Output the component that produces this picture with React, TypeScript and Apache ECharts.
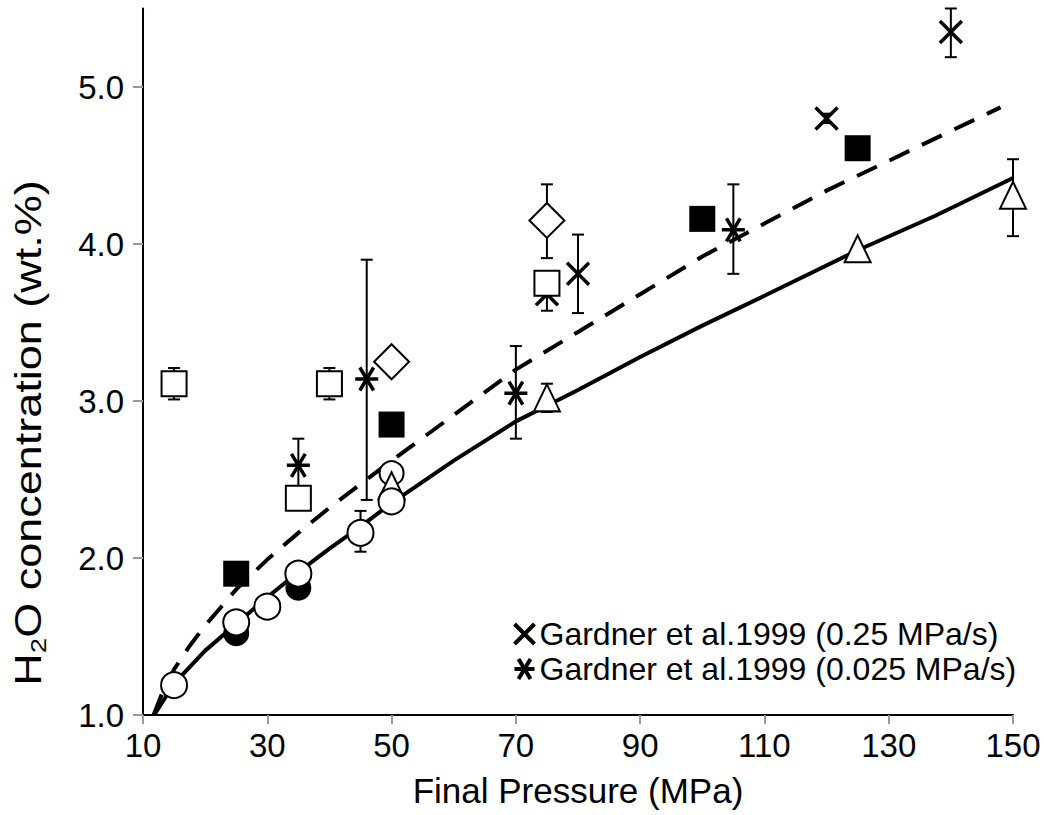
import React, { useEffect, useRef } from "react";
import * as echarts from "echarts";

// ---------- data ----------
const xTicks = [10, 30, 50, 70, 90, 110, 130, 150];
const yTicks = [1, 2, 3, 4, 5];

const solidCurve = [
  [11.8, 1.0], [15, 1.2], [20, 1.41], [25, 1.58], [30, 1.75], [35, 1.91], [40, 2.06],
  [45, 2.2], [50, 2.35], [60, 2.62], [70, 2.87], [75, 2.97], [80, 3.07], [90, 3.28],
  [100, 3.48], [110, 3.67], [125, 3.96], [137.5, 4.18], [150, 4.42],
];
const dashedCurve = [
  [11.7, 1.0], [13, 1.13], [15, 1.29], [17.5, 1.44], [20, 1.57], [25, 1.8], [30, 1.99],
  [35, 2.16], [40, 2.32], [46, 2.5], [50, 2.62], [60, 2.91], [70, 3.2], [80, 3.44],
  [90, 3.68], [100, 3.92], [110, 4.13], [120, 4.34], [130, 4.53], [140, 4.72], [148, 4.87],
];

const openCircles = [[15, 1.19], [25, 1.59], [30, 1.69], [35, 1.9], [45, 2.16], [50, 2.36]];
const openCircleBack = [[50, 2.54]];
const filledCircles = [[25, 1.52], [35, 1.81]];
const openSquares = [[15, 3.11], [35, 2.38], [40, 3.11], [75, 3.75]];
const filledSquares = [[25, 1.9], [50, 2.85], [100, 4.16], [125, 4.61]];
const openDiamonds = [[50, 3.25], [75, 4.15]];
const openTriangles = [[50, 2.46], [75, 3.02], [125, 3.97], [150, 4.31]];
const gardnerFast = [[75, 3.68], [80, 3.81], [120, 4.8], [140, 5.35]];
const gardnerSlow = [[35, 2.59], [46, 3.14], [70, 3.05], [105, 4.09]];

// error bars: [x, low, high]
const errorBars = [
  [45, 2.04, 2.3],
  [15, 3.01, 3.21],
  [40, 3.01, 3.21],
  [35, 2.42, 2.76],
  [46, 2.37, 3.9],
  [75, 3.91, 4.38],
  [75, 3.575, 3.8],
  [70, 2.76, 3.35],
  [75, 2.93, 3.11],
  [80, 3.56, 4.06],
  [120, 4.77, 4.83],
  [140, 5.19, 5.5],
  [105, 3.81, 4.38],
  [150, 4.05, 4.54],
];

const nameFast = "Gardner et al.1999 (0.25 MPa/s)";
const nameSlow = "Gardner et al.1999 (0.025 MPa/s)";
const yTitle = "{a|H}{s|2}{a|O concentration (wt.%)}";

const FONT = "'Liberation Sans', Arial, Helvetica, sans-serif";
const X_PATH = "path://M0,0L20,20M20,0L0,20";
const AST_PATH = "path://M0,10L20,10M4,0L16,20M16,0L4,20";

export default function App() {
  const ref = useRef<HTMLDivElement>(null);
  useEffect(() => {
    if (!ref.current) return;
    const chart = echarts.init(ref.current, undefined, { renderer: "svg" });
    const openStyle = { color: "#fff", borderColor: "#000", borderWidth: 2, opacity: 1 };
    const filledStyle = { color: "#000", borderColor: "#000", borderWidth: 0, opacity: 1 };
    const strokeStyle = { color: "none", borderColor: "#000", borderWidth: 3.5, opacity: 1 };
    const option: any = {
      animation: false,
      backgroundColor: "#fff",
      grid: { left: 143, right: 31, top: 8.5, bottom: 100, containLabel: false },
      graphic: [
        {
          type: "text",
          x: 29,
          y: 433,
          rotation: Math.PI / 2,
          scaleX: 1.25,
          style: {
            text: yTitle,
            align: "center",
            verticalAlign: "middle",
            fill: "#000",
            rich: {
              a: { fontSize: 36, fontFamily: FONT, fill: "#000", lineHeight: 40 },
              s: { fontSize: 22, fontFamily: FONT, fill: "#000", verticalAlign: "bottom", lineHeight: 22 },
            },
          },
        },
      ],
      xAxis: {
        type: "value",
        min: 10,
        max: 150,
        interval: 20,
        name: "Final Pressure (MPa)",
        nameLocation: "middle",
        nameGap: 58,
        nameTextStyle: { fontSize: 35, fontFamily: FONT, color: "#000" },
        axisLine: { show: true, lineStyle: { color: "#000", width: 2 } },
        axisTick: { show: true, length: 9, lineStyle: { color: "#999", width: 2 }, customValues: xTicks },
        axisLabel: { fontSize: 33, fontFamily: FONT, color: "#000", margin: 14, customValues: xTicks },
        splitLine: { show: false },
      },
      yAxis: {
        type: "value",
        min: 1,
        max: 5.5,
        interval: 1,
        axisLine: { show: true, lineStyle: { color: "#000", width: 2 } },
        axisTick: { show: true, length: 10, lineStyle: { color: "#999", width: 2 }, customValues: yTicks },
        axisLabel: {
          fontSize: 33,
          fontFamily: FONT,
          color: "#000",
          margin: 19,
          customValues: yTicks,
          formatter: (v: number) => v.toFixed(1),
        },
        splitLine: { show: false },
      },
      legend: {
        orient: "vertical",
        left: 507,
        top: 613,
        itemWidth: 20,
        itemHeight: 20,
        itemGap: 3,
        selectedMode: false,
        textStyle: { fontSize: 32, fontFamily: FONT, color: "#000" },
        data: [
          { name: nameFast, icon: X_PATH, itemStyle: { color: "none", borderColor: "#000", borderWidth: 4 } },
          { name: nameSlow, icon: AST_PATH, itemStyle: { color: "none", borderColor: "#000", borderWidth: 4 } },
        ],
      },
      series: [
        {
          type: "line",
          data: solidCurve,
          showSymbol: false,
          z: 1,
          lineStyle: { color: "#000", width: 4 },
          silent: true,
        },
        {
          type: "line",
          data: dashedCurve,
          showSymbol: false,
          z: 1,
          lineStyle: { color: "#000", width: 4, type: [22, 14] },
          silent: true,
        },
        {
          type: "custom",
          z: 2,
          data: errorBars,
          encode: { x: 0, y: [1, 2] },
          renderItem: (params: any, api: any) => {
            const x = api.value(0);
            const lo = api.coord([x, api.value(1)]);
            const hi = api.coord([x, api.value(2)]);
            const w = 6;
            const st = { stroke: "#000", lineWidth: 2 };
            return {
              type: "group",
              children: [
                { type: "line", shape: { x1: lo[0], y1: lo[1], x2: hi[0], y2: hi[1] }, style: st },
                { type: "line", shape: { x1: lo[0] - w, y1: lo[1], x2: lo[0] + w, y2: lo[1] }, style: st },
                { type: "line", shape: { x1: hi[0] - w, y1: hi[1], x2: hi[0] + w, y2: hi[1] }, style: st },
              ],
            };
          },
        },
        { type: "scatter", z: 3, data: filledCircles, symbol: "circle", symbolSize: 26, itemStyle: filledStyle },
        { type: "scatter", z: 3, name: nameFast, data: gardnerFast, symbol: X_PATH, symbolSize: 22, itemStyle: strokeStyle },
        { type: "scatter", z: 3, name: nameSlow, data: gardnerSlow, symbol: AST_PATH, symbolSize: 23, itemStyle: strokeStyle },
        { type: "scatter", z: 3, data: openCircleBack, symbol: "circle", symbolSize: 24, itemStyle: openStyle },
        { type: "scatter", z: 3, data: openTriangles, symbol: "triangle", symbolSize: [26, 27], itemStyle: openStyle },
        { type: "scatter", z: 3, data: openCircles, symbol: "circle", symbolSize: 26, itemStyle: openStyle },
        { type: "scatter", z: 3, data: openSquares, symbol: "rect", symbolSize: 25, itemStyle: openStyle },
        { type: "scatter", z: 3, data: filledSquares, symbol: "rect", symbolSize: 26, itemStyle: filledStyle },
        { type: "scatter", z: 3, data: openDiamonds, symbol: "diamond", symbolSize: 35, itemStyle: openStyle },
      ],
    };
    chart.setOption(option);
    return () => chart.dispose();
  }, []);
  return (
    <div
      ref={ref}
      style={{ position: "fixed", left: 0, top: 0, width: 1044, height: 815, background: "#fff" }}
    />
  );
}
